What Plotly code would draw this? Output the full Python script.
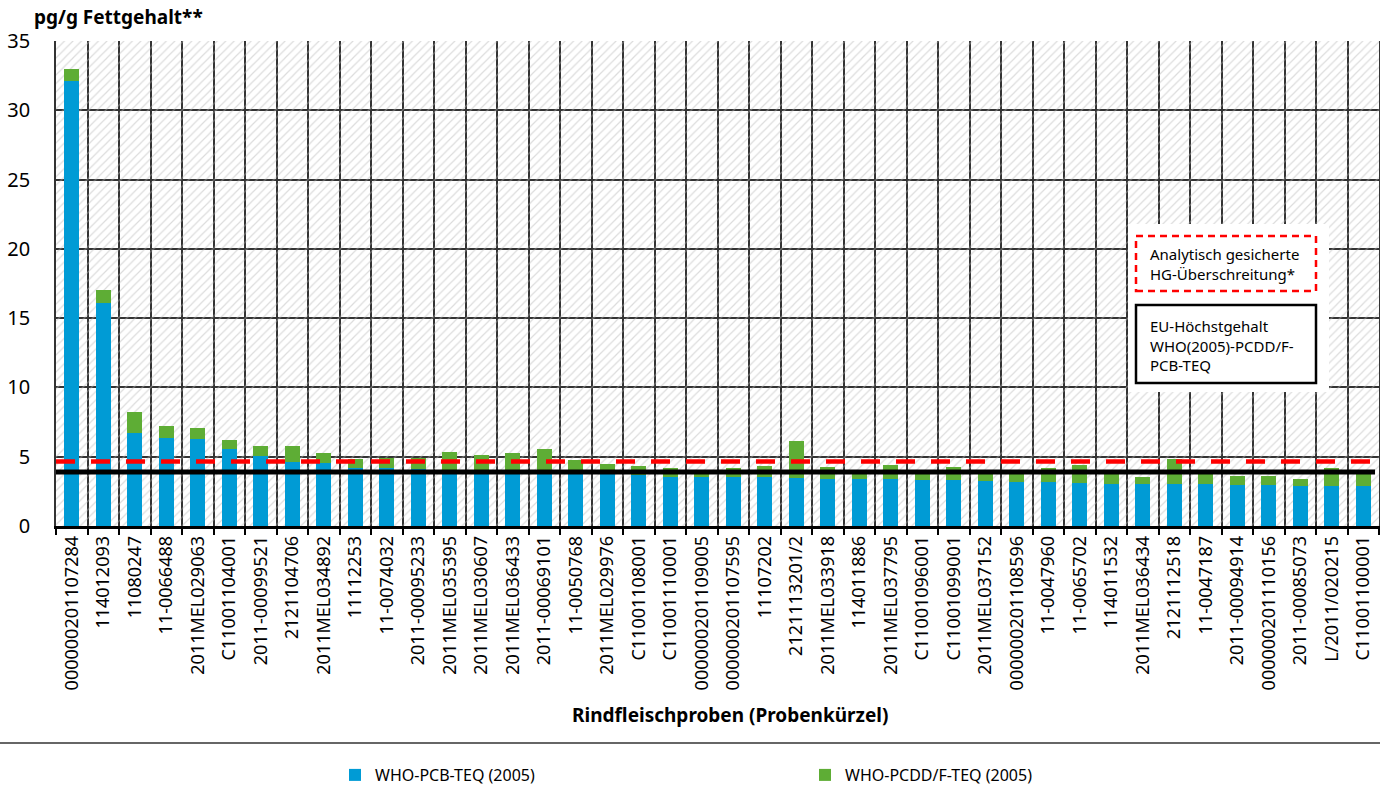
import plotly.graph_objects as go

samples = [
    "000000201107284", "114012093", "11080247", "11-0066488", "2011MEL029063",
    "C11001104001", "2011-00099521", "2121104706", "2011MEL034892", "11112253",
    "11-0074032", "2011-00095233", "2011MEL035395", "2011MEL030607", "2011MEL036433",
    "2011-00069101", "11-0050768", "2011MEL029976", "C11001108001", "C11001110001",
    "000000201109005", "000000201107595", "11107202", "2121113201/2", "2011MEL033918",
    "114011886", "2011MEL037795", "C11001096001", "C11001099001", "2011MEL037152",
    "000000201108596", "11-0047960", "11-0065702", "114011532", "2011MEL036434",
    "2121112518", "11-0047187", "2011-00094914", "000000201110156", "2011-00085073",
    "L/2011/020215", "C11001100001",
]

pcb_teq = [
    32.1, 16.07, 6.74, 6.38, 6.29, 5.56, 5.06, 4.62, 4.53, 4.22,
    4.17, 4.10, 4.00, 3.95, 3.90, 3.85, 3.80, 3.75, 3.70, 3.54,
    3.54, 3.52, 3.52, 3.47, 3.40, 3.38, 3.38, 3.30, 3.30, 3.28,
    3.18, 3.14, 3.11, 3.04, 3.04, 3.04, 3.00, 2.97, 2.94, 2.89,
    2.89, 2.89,
]

pcddf_teq = [
    0.90, 0.94, 1.47, 0.82, 0.77, 0.65, 0.70, 1.16, 0.77, 0.62,
    0.74, 0.81, 1.37, 1.21, 1.37, 1.71, 0.97, 0.73, 0.61, 0.63,
    0.40, 0.65, 0.84, 2.67, 0.84, 0.47, 1.01, 0.50, 0.99, 0.57,
    0.67, 1.03, 1.30, 0.86, 0.48, 1.76, 0.90, 0.62, 0.65, 0.49,
    1.28, 0.96,
]

y_max = 35
eu_limit = 3.9          # EU-Höchstgehalt (solid black line)
exceed_limit = 4.65     # analytisch gesicherte HG-Überschreitung (red dashed)

BLUE = "#009BD5"
GREEN = "#5EAD35"
GRID = "#333333"

fig = go.Figure()

# hatched plot background
fig.add_trace(go.Bar(
    x=samples, y=[y_max] * len(samples), width=1,
    marker=dict(color="rgba(0,0,0,0)", line=dict(width=0),
                pattern=dict(shape="/", fgcolor="#BABABA", bgcolor="rgba(0,0,0,0)",
                             size=6, solidity=0.2)),
    showlegend=False, hoverinfo="skip",
))

fig.add_trace(go.Bar(
    x=samples, y=pcb_teq, width=0.47, name="WHO-PCB-TEQ (2005)",
    marker=dict(color=BLUE, line=dict(width=0)),
))
fig.add_trace(go.Bar(
    x=samples, y=pcddf_teq, base=pcb_teq, width=0.47, name="WHO-PCDD/F-TEQ (2005)",
    marker=dict(color=GREEN, line=dict(width=0)),
))

L, R, T, B = 56, 1, 41, 259
W, H = 1380, 785
pw, ph = W - L - R, H - T - B

def px(xp):
    return (xp - L) / pw

def py(yp):
    return (H - B - yp) / ph

shapes = [
    dict(type="line", xref="paper", yref="y", x0=0, x1=0.997,
         y0=exceed_limit, y1=exceed_limit, layer="above",
         line=dict(color="#FF0000", width=4.5, dash="19px,16px")),
    dict(type="line", xref="paper", yref="y", x0=0, x1=0.997,
         y0=eu_limit, y1=eu_limit, layer="above", line=dict(color="black", width=5)),
    # white key box
    dict(type="rect", xref="paper", yref="paper", x0=px(1128), x1=px(1329),
         y0=py(392), y1=py(224), fillcolor="white", layer="above", line=dict(width=0)),
    dict(type="rect", xref="paper", yref="paper", x0=px(1136), x1=px(1316),
         y0=py(291), y1=py(236), fillcolor="white", layer="above",
         line=dict(color="#FF0000", width=2.5, dash="7px,5px")),
    dict(type="rect", xref="paper", yref="paper", x0=px(1136), x1=px(1316),
         y0=py(383), y1=py(305), fillcolor="white", layer="above",
         line=dict(color="black", width=2.5)),
    # separator line above legend
    dict(type="line", xref="paper", yref="paper", x0=px(0), x1=px(1380),
         y0=py(743), y1=py(743), line=dict(color=GRID, width=1.5)),
]

annotations = [
    dict(text="<b>pg/g Fettgehalt**</b>", xref="paper", yref="paper",
         x=px(32), y=py(17), xanchor="left", yanchor="middle", showarrow=False,
         font=dict(size=19, color="black", family="Noto Sans")),
    dict(text="<b>Rindfleischproben (Probenkürzel)</b>", xref="paper", yref="paper",
         x=px(730), y=py(715), xanchor="center", yanchor="middle", showarrow=False,
         font=dict(size=19, color="black", family="Noto Sans")),
    dict(text="Analytisch gesicherte<br>HG-Überschreitung*", xref="paper", yref="paper",
         x=px(1148), y=py(264), xanchor="left", yanchor="middle", align="left",
         showarrow=False, font=dict(size=15, color="black", family="Noto Sans")),
    dict(text="EU-Höchstgehalt<br>WHO(2005)-PCDD/F-<br>PCB-TEQ", xref="paper", yref="paper",
         x=px(1148), y=py(345), xanchor="left", yanchor="middle", align="left",
         showarrow=False, font=dict(size=15, color="black", family="Noto Sans")),
]

fig.update_layout(
    width=W, height=H,
    margin=dict(l=L, r=R, t=T, b=B, autoexpand=False),
    barmode="overlay", bargap=0,
    paper_bgcolor="white", plot_bgcolor="white",
    font=dict(family="Noto Sans", color="black"),
    shapes=shapes, annotations=annotations,
    showlegend=True,
    legend=dict(orientation="h", x=px(335), y=py(775), xanchor="left", yanchor="middle",
                entrywidth=425, entrywidthmode="pixels", itemwidth=30,
                font=dict(size=16, family="Noto Sans", color="black"),
                bgcolor="rgba(0,0,0,0)", traceorder="normal"),
    xaxis=dict(
        type="category", tickson="boundaries", showgrid=True, gridcolor=GRID, gridwidth=1.5,
        ticks="outside", ticklen=6, tickwidth=2, tickcolor="black",
        showline=True, linecolor="black", linewidth=2.5, mirror=False,
        tickangle=-90, tickfont=dict(size=18, family="Noto Sans", color="black"),
        range=[-0.5, len(samples) - 0.5], automargin=False,
    ),
    yaxis=dict(
        range=[0, y_max], dtick=5, showgrid=True, gridcolor=GRID, gridwidth=1.5,
        zeroline=False, showline=True, linecolor=GRID, linewidth=1.5, mirror=True,
        ticks="", ticklabelstandoff=20,
        tickfont=dict(size=20, family="Noto Sans", color="black"), automargin=False,
    ),
)

fig.write_html(
    "out.html",
    config={"displayModeBar": False},
    post_script="document.body.style.margin='0px';document.body.style.overflow='hidden';",
)
